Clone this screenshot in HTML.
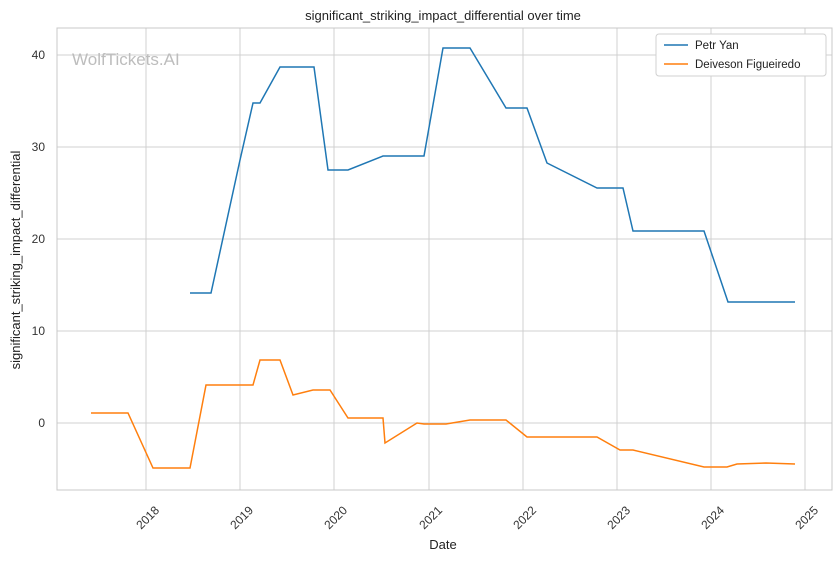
<!DOCTYPE html>
<html><head><meta charset="utf-8"><style>
body{margin:0;background:#fff;}
svg{display:block;font-family:"Liberation Sans","DejaVu Sans",sans-serif;}
</style></head><body>
<svg width="840" height="561" viewBox="0 0 840 561" xmlns="http://www.w3.org/2000/svg">
<rect width="840" height="561" fill="#fff"/>
<g stroke="#d0d0d0" stroke-width="1">
<line x1="146" y1="28" x2="146" y2="490"/><line x1="240" y1="28" x2="240" y2="490"/>
<line x1="334" y1="28" x2="334" y2="490"/><line x1="429" y1="28" x2="429" y2="490"/>
<line x1="523" y1="28" x2="523" y2="490"/><line x1="617" y1="28" x2="617" y2="490"/>
<line x1="711" y1="28" x2="711" y2="490"/><line x1="805" y1="28" x2="805" y2="490"/>
<line x1="57" y1="55" x2="832" y2="55"/><line x1="57" y1="147" x2="832" y2="147"/>
<line x1="57" y1="239" x2="832" y2="239"/><line x1="57" y1="331" x2="832" y2="331"/>
<line x1="57" y1="423" x2="832" y2="423"/>
</g>
<rect x="57" y="28" width="775" height="462" fill="none" stroke="#c8c8c8" stroke-width="1"/>
<text x="72" y="65" font-size="17" fill="#bdbdbd">WolfTickets.AI</text>
<polyline fill="none" stroke="#1f77b4" stroke-width="1.5" points="190,293 211,293 240,160 253,103 260,103 280,67 314,67 328,170 348,170 383,156 424,156 443,48 470,48 506,108 527,108 547,163 597,188 623,188 633,231 704,231 728,302 795,302"/>
<polyline fill="none" stroke="#ff7f0e" stroke-width="1.5" points="91,413 128,413 153,468 190,468 206,385 253,385 260,360 280,360 293,395 313,390 330,390 348,418 383,418 385,443 417,423 424,424 446,424 470,420 506,420 527,437 597,437 620,450 633,450 704,467 727,467 737,464 766,463 795,464"/>
<g font-size="12" fill="#333" text-anchor="end">
<text x="45" y="59">40</text><text x="45" y="151">30</text><text x="45" y="243">20</text>
<text x="45" y="335">10</text><text x="45" y="427">0</text>
</g>
<g font-size="12" fill="#333" text-anchor="end">
<text transform="translate(160,511) rotate(-45)">2018</text>
<text transform="translate(254,511) rotate(-45)">2019</text>
<text transform="translate(348,511) rotate(-45)">2020</text>
<text transform="translate(443,511) rotate(-45)">2021</text>
<text transform="translate(537,511) rotate(-45)">2022</text>
<text transform="translate(631,511) rotate(-45)">2023</text>
<text transform="translate(725,511) rotate(-45)">2024</text>
<text transform="translate(819,511) rotate(-45)">2025</text>
</g>
<text x="443" y="549" font-size="13" fill="#222" text-anchor="middle">Date</text>
<text transform="translate(20,260) rotate(-90)" font-size="13" fill="#222" text-anchor="middle">significant_striking_impact_differential</text>
<text x="443" y="20" font-size="13" fill="#222" text-anchor="middle">significant_striking_impact_differential over time</text>
<rect x="656" y="34" width="170" height="42" fill="#fff" stroke="#d0d0d0" rx="3"/>
<line x1="664" y1="45" x2="688" y2="45" stroke="#1f77b4" stroke-width="1.5"/>
<text x="695" y="49" font-size="11.5" fill="#222">Petr Yan</text>
<line x1="664" y1="64" x2="688" y2="64" stroke="#ff7f0e" stroke-width="1.5"/>
<text x="695" y="68" font-size="11.5" fill="#222">Deiveson Figueiredo</text>
</svg>
</body></html>
